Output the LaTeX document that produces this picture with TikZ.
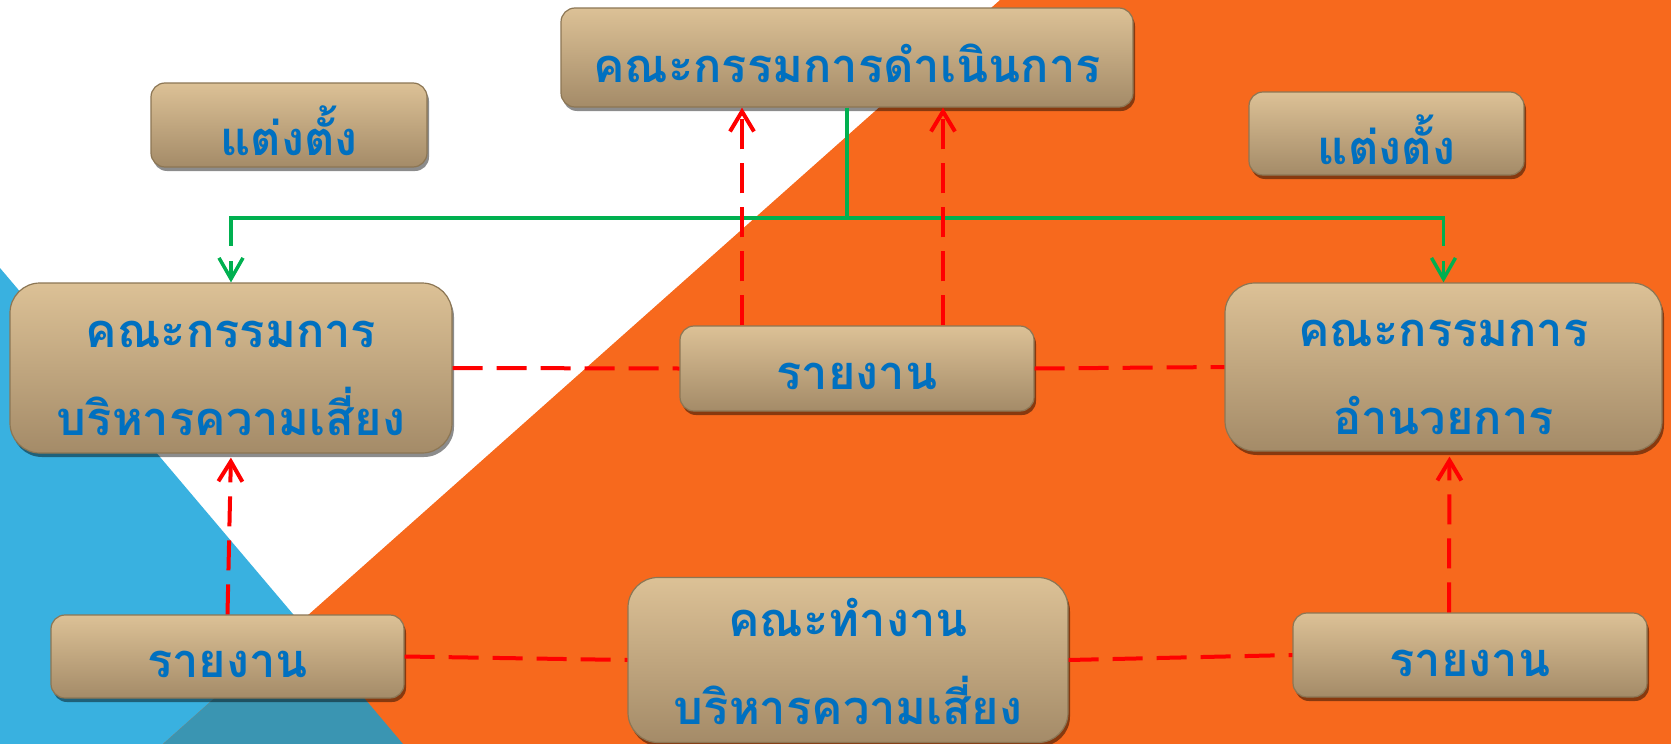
\documentclass[tikz,border=0pt]{standalone}
\usepackage{fontspec}
\newfontfamily\thaifont[Script=Thai]{Loma}
\usetikzlibrary{arrows.meta,shadows,calc}
\definecolor{bgorange}{HTML}{F7691D}
\definecolor{bgblue}{HTML}{39B1E0}
\definecolor{bgover}{HTML}{3A95B2}
\definecolor{boxtop}{HTML}{DCC196}
\definecolor{boxbot}{HTML}{A48B68}
\definecolor{boxedge}{HTML}{8C7654}
\definecolor{txtblue}{HTML}{0070C0}
\definecolor{grn}{HTML}{00B050}
\begin{document}
\begin{tikzpicture}[x=1pt,y=-1pt,
  tbox/.style={draw=boxedge, line width=1.2pt, top color=boxtop, bottom color=boxbot,
    inner sep=0pt, drop shadow={shadow xshift=2pt, shadow yshift=-4pt, opacity=0.45, fill=black}},
  sbox/.style={tbox, rounded corners=14pt},
  lbox/.style={tbox, rounded corners=30pt},
  lbl/.style={text=txtblue, inner sep=0pt, align=center,
    font={\thaifont\bfseries\fontsize{47pt}{88pt}\selectfont}},
  rline/.style={draw=red, line width=4pt, dash pattern=on 30pt off 14pt},
  rarrow/.style={rline, -{Straight Barb[length=20pt,width=24pt]}},
  gline/.style={draw=grn, line width=3.5pt},
  garrow/.style={draw=grn, line width=3.5pt, -{Straight Barb[length=21pt,width=24pt]}}
]
\useasboundingbox (0,0) rectangle (1671,744);
% background
\fill[white] (0,0) rectangle (1671,744);
\fill[bgblue] (0,268) -- (403,744) -- (0,744) -- cycle;
\fill[bgorange] (1000,0) -- (1671,0) -- (1671,744) -- (163,744) -- cycle;
\fill[bgover] (300,622) -- (403,744) -- (163,744) -- cycle;

% boxes
\node[sbox, minimum width=572pt, minimum height=99pt] (b1) at (847,57.5) {};
\node[sbox, minimum width=276pt, minimum height=84pt] (b2) at (289,125) {};
\node[sbox, minimum width=275pt, minimum height=83pt] (b3) at (1386.5,133.5) {};
\node[lbox, minimum width=442pt, minimum height=170pt] (b4) at (231,368) {};
\node[sbox, minimum width=354pt, minimum height=85pt] (b5) at (857,368.5) {};
\node[lbox, minimum width=437pt, minimum height=168pt] (b6) at (1443.5,367) {};
\node[sbox, minimum width=353pt, minimum height=83pt] (b7) at (227.5,656.5) {};
\node[lbox, minimum width=440pt, minimum height=165pt] (b8) at (848,660) {};
\node[sbox, minimum width=354pt, minimum height=84pt] (b9) at (1470,655) {};

% texts
\node[lbl] (t1) at ([yshift=-6pt]b1.center) {คณะกรรมการดำเนินการ};
\node[lbl] (t2) at ([yshift=-6pt]b2.center) {แต่งตั้ง};
\node[lbl] (t3) at ([yshift=-6pt]b3.center) {แต่งตั้ง};
\node[lbl] (t4) at ([yshift=-10pt]b4.center) {คณะกรรมการ\\บริหารความเสี่ยง};
\node[lbl] (t5) at ([yshift=-8pt]b5.center) {รายงาน};
\node[lbl] (t6) at ([yshift=-10pt]b6.center) {คณะกรรมการ\\อำนวยการ};
\node[lbl] (t7) at ([yshift=-8pt]b7.center) {รายงาน};
\node[lbl] (t8) at ([yshift=-1pt]b8.center) {คณะทำงาน\\บริหารความเสี่ยง};
\node[lbl] (t9) at ([yshift=-8pt]b9.center) {รายงาน};

% green connectors
\coordinate (gj) at (848,218);
\draw[gline] (b1.south) -- (b1.south |- gj) -| ([yshift=36pt]b4.north);
\draw[gline] (b1.south |- gj) -| ([yshift=36pt]b6.north);
\draw[garrow] ([yshift=21pt]b4.north) -- (b4.north);
\draw[garrow] ([yshift=21pt]b6.north) -- (b6.north);

% red connectors
\draw[rarrow] ([xshift=-115pt]b5.north) -- ([xshift=-105pt]b1.south);
\draw[rarrow] ([xshift=86pt]b5.north) -- ([xshift=96pt]b1.south);
\draw[rline] (b4.east) -- (b5.west);
\draw[rline] (b5.east) -- (b6.west);
\draw[rarrow, shorten >=4pt] (b7.north) -- (b4.south);
\draw[rline] (b7.east) -- (b8.west);
\draw[rline] (b8.east) -- (b9.west);
\draw[rarrow, shorten >=5pt] ([xshift=-21pt]b9.north) -- ([xshift=6pt]b6.south);
\end{tikzpicture}
\end{document}
